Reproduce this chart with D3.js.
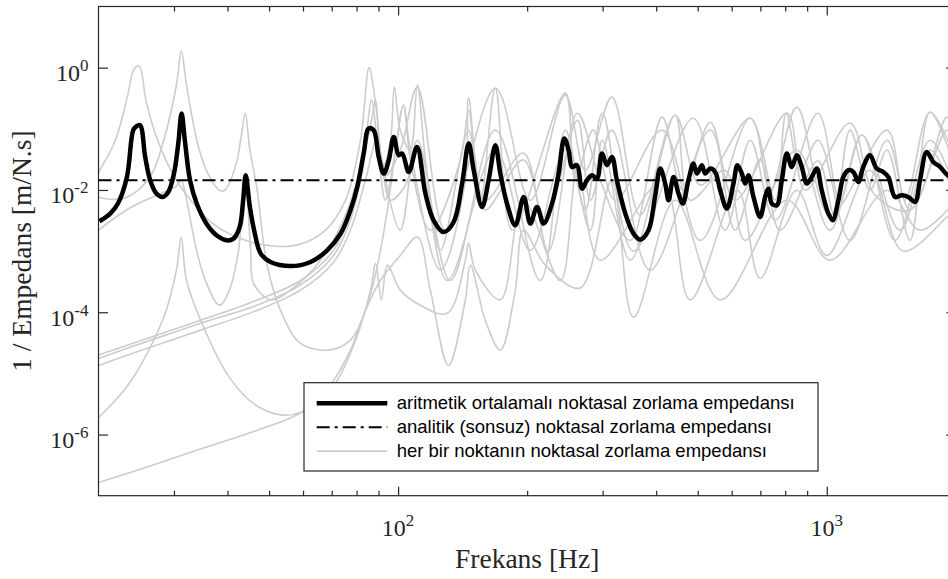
<!DOCTYPE html>
<html>
<head>
<meta charset="utf-8">
<script src="https://d3js.org/d3.v7.min.js"></script>
<style>
  body { margin: 0; background: #fff; }
  svg { display: block; }
</style>
</head>
<body>
<div id="chart"></div>
<script>
// axis ranges and ticks
var freqRange = [20, 2000];
var valRange = [1e-7, 10];
var xMajorTicks = [100, 1000];
var xTickExps = ["2", "3"];
var xMinorTicks = [30, 40, 50, 60, 70, 80, 90, 200, 300, 400, 500, 600, 700, 800, 900];
var yMajorTicks = [1, 1e-2, 1e-4, 1e-6];
var yTickExps = ["0", "-2", "-4", "-6"];

// analytic (infinite plate) value
var analyticCurve = [[20, 1.44e-2], [2000, 1.44e-2]];

// arithmetic mean of the point mobilities [Hz, m/N.s]
var meanCurve = [[20.1, 3.08e-3], [21.3, 4.11e-3], [22.2, 5.99e-3], [23.3, 1.63e-2], [24.1, 9.48e-2], [24.5, 0.110], [25.0, 0.1145],
  [25.7, 3.47e-2], [26.4, 1.44e-2], [27.3, 8.73e-3], [28.2, 7.68e-3], [29.1, 9.27e-3], [30.0, 1.85e-2], [30.7, 5.75e-2], [31.25, 0.178],
  [31.8, 6.51e-2], [32.7, 1.44e-2], [33.9, 5.99e-3], [35.7, 2.82e-3], [37.7, 1.81e-3], [39.8, 1.50e-3], [41.3, 1.60e-3], [42.7, 2.48e-3],
  [43.5, 6.78e-3], [44.1, 1.74e-2], [45.1, 5.27e-3], [46.3, 1.96e-3], [47.8, 9.10e-4], [50.4, 6.64e-4], [56.1, 5.70e-4], [62.5, 6.64e-4],
  [68.3, 1.03e-3], [73.4, 1.93e-3], [77.4, 4.65e-3], [80.3, 1.12e-2], [83.1, 3.94e-2], [85.4, 0.101], [87.7, 9.48e-2], [90.1, 3.47e-2],
  [92.6, 1.85e-2], [95.1, 3.06e-2], [97.7, 7.37e-2], [100.3, 3.70e-2], [102.2, 3.94e-2], [105.9, 1.97e-2], [110.7, 5.06e-2], [115.8, 8.73e-3],
  [121.0, 3.19e-3], [127.7, 2.05e-3], [134.8, 2.99e-3], [141.0, 1.27e-2], [146.1, 5.75e-2], [150.1, 2.10e-2], [157.0, 5.27e-3], [162.6, 1.44e-2],
  [168.6, 5.39e-2], [173.2, 1.85e-2], [179.5, 5.99e-3], [187.7, 2.64e-3], [196.3, 7.68e-3], [203.4, 2.82e-3], [210.9, 5.27e-3], [218.5, 2.82e-3],
  [228.6, 5.99e-3], [236.8, 1.85e-2], [244.2, 6.94e-2], [249.9, 4.47e-2], [254.5, 2.38e-2], [261.4, 2.54e-2], [268.5, 1.05e-2], [275.8, 1.44e-2],
  [283.3, 1.74e-2], [291.0, 1.54e-2], [298.9, 3.94e-2], [307.0, 2.54e-2], [315.4, 3.47e-2], [323.9, 1.44e-2], [338.8, 4.11e-3], [354.2, 1.93e-3],
  [367.1, 1.54e-3], [383.8, 2.19e-3], [398.0, 8.19e-3], [408.8, 2.24e-2], [419.9, 1.27e-2], [427.4, 6.78e-3], [439.0, 1.63e-2], [450.9, 8.73e-3],
  [461.6, 5.99e-3], [475.7, 1.44e-2], [488.7, 2.70e-2], [497.7, 1.85e-2], [511.2, 2.54e-2], [520.4, 1.85e-2], [534.6, 2.24e-2], [549.1, 1.97e-2],
  [564.1, 9.89e-3], [584.7, 4.96e-3], [605.8, 1.27e-2], [618.9, 2.54e-2], [633.8, 1.85e-2], [645.1, 1.27e-2], [656.5, 1.74e-2], [674.5, 7.68e-3],
  [699.1, 3.61e-3], [718.1, 7.68e-3], [731.0, 1.05e-2], [744.4, 5.99e-3], [764.6, 5.62e-3], [785.5, 1.44e-2], [806.9, 3.94e-2], [828.8, 2.38e-2],
  [851.4, 3.70e-2], [874.5, 2.38e-2], [898.3, 1.27e-2], [922.6, 1.63e-2], [947.7, 2.24e-2], [973.4, 9.89e-3], [1008.6, 4.11e-3], [1032.7, 3.19e-3],
  [1064.4, 6.78e-3], [1093.1, 1.63e-2], [1122.8, 2.10e-2], [1153.3, 1.97e-2], [1184.6, 1.35e-2], [1216.8, 2.38e-2], [1261.3, 3.70e-2], [1307.6, 2.24e-2],
  [1355.0, 1.97e-2], [1392.0, 1.63e-2], [1443.0, 7.68e-3], [1495.8, 8.19e-3], [1549.7, 7.68e-3], [1606.4, 6.36e-3], [1650.3, 1.44e-2], [1710.7, 4.19e-2],
  [1772.4, 2.87e-2], [1837.2, 2.38e-2], [1914.7, 1.74e-2], [2000, 1.5e-2]];

// single point mobilities (grey)
var point1 = [[20, 1.95e-2], [21.9, 6.5e-2], [23.4, 0.355], [24.2, 0.945], [24.9, 1.06], [25.8, 0.294], [27.2, 7.9e-2], [29.5, 2.1e-2],
  [32.8, 6.8e-3], [37.5, 2.6e-3], [44, 1.5e-3], [51.8, 1.2e-3], [59.2, 1.3e-3], [67.7, 2.2e-3], [75.4, 6.8e-3], [81.7, 6.5e-2], [85.6, 1.0],
  [89.0, 0.20], [93.4, 1.7e-2], [101.2, 4.5e-2], [110.9, 0.48], [128.9, 2.2e-3], [168.6, 0.46], [203.4, 6.8e-3], [245.5, 0.355], [273.3, 2.1e-2],
  [315, 0.33], [367, 3.9e-3], [443, 0.167], [507, 1.2e-2], [663, 0.149], [738, 9.9e-3], [851, 0.226], [1017, 3.9e-3], [1382, 9.5e-2],
  [1522, 6.8e-3], [1741, 0.187], [2000, 3.1e-2]];
var point2 = [[20, 7.6e-3], [21.9, 7.0e-3], [23.8, 8.2e-3], [26.5, 1.74e-2], [28.4, 6.5e-2], [30.4, 0.52], [31.2, 1.86], [32.1, 0.52],
  [33.9, 6.5e-2], [35.7, 2.1e-2], [38.3, 9.9e-3], [39.4, 9.9e-3], [41.8, 2.5e-2], [43.1, 7.9e-2], [44, 0.18], [45.1, 4.5e-2], [46.8, 1.1e-2],
  [49.6, 5.4e-4], [54.0, 8.3e-5], [59.2, 3.1e-5], [68.8, 2.4e-5], [77.4, 3.5e-5], [83.9, 1.07e-4], [89.0, 4.9e-4], [94.4, 4.7e-3], [98.6, 4.5e-2],
  [102.9, 0.243], [106.8, 4.5e-2], [125.5, 4.9e-4], [143.5, 1.44e-2], [146, 0.317], [159.7, 6.8e-3], [196, 4.0e-2], [224, 1.0e-3], [262, 0.18],
  [296, 1.44e-2], [348, 1.5e-3], [413, 0.155], [461, 9.9e-3], [535, 0.128], [611, 6.8e-3], [808, 0.18], [890, 9.9e-3], [1133, 0.124],
  [1296, 8.2e-3], [1564, 4.7e-3], [1907, 0.155], [2000, 6.5e-2]];
var point3 = [[20, 2.2e-3], [23.8, 5.2e-3], [28.2, 9.0e-3], [30.4, 1.15e-2], [31.2, 1.44e-2], [32.1, 6.8e-3], [33.9, 1.0e-3], [35.7, 3.0e-4],
  [38.3, 1.3e-4], [40.4, 2.3e-4], [42.4, 1.0e-3], [44, 1.44e-2], [45.3, 1.0e-3], [46.0, 3.0e-4], [50.4, 1.6e-4], [56.1, 2.3e-4], [65.9, 7.1e-4],
  [75.4, 3.9e-3], [82.6, 3.1e-2], [86.7, 0.138], [88.6, 0.294], [90.9, 4.5e-2], [101.2, 2.2e-3], [110.9, 6.5e-2], [132.4, 3.3e-4], [168.6, 9.5e-2],
  [214.6, 3.3e-4], [245.5, 9.5e-2], [273.3, 4.7e-3], [299.4, 0.18], [353.6, 1.0e-3], [488, 0.149], [579, 2.2e-3], [663, 6.5e-2], [758, 3.2e-3],
  [954, 0.18], [1074, 6.8e-3], [1208, 7.9e-2], [1482, 2.2e-3], [1741, 4.5e-2], [2000, 6.8e-3]];
var point4 = [[20, 1.9e-6], [23.6, 6.9e-6], [28.4, 8.3e-5], [30.4, 4.9e-4], [31.2, 1.7e-3], [32.1, 3.3e-4], [35.7, 4.5e-5], [40.4, 8.6e-6],
  [46.0, 3.2e-6], [53.2, 2.1e-6], [59.2, 2.3e-6], [69.5, 5.3e-6], [79.6, 3.5e-5], [86.2, 2.3e-4], [88.6, 6.3e-4], [91.4, 1.6e-4], [94.4, 5.9e-4],
  [101.2, 2.3e-4], [112.7, 1.3e-4], [130.3, 9.6e-5], [143.5, 7.1e-4], [146, 1.34e-3], [151.4, 4.9e-4], [173.2, 1.6e-4], [196, 6.8e-3],
  [239, 3.3e-4], [262, 2.1e-2], [296, 7.1e-4], [413, 1.44e-2], [480, 1.6e-4], [619, 9.9e-3], [699, 3.6e-4], [851, 9.9e-3], [1000, 8.5e-4],
  [1261, 2.1e-2], [1505, 1.0e-3], [1907, 3.6e-3], [2000, 4.7e-3]];
var point5 = [[20, 1.64e-7], [26.5, 3.1e-7], [34.6, 5.8e-7], [46.8, 1.17e-6], [60.1, 2.4e-6], [69.5, 6.5e-6], [77.4, 2.4e-5], [83.9, 1.07e-4],
  [90.9, 3.3e-4], [101.2, 8.5e-4], [110.9, 1.7e-3], [118.9, 2.3e-4], [131, 1.35e-5], [143.5, 1.6e-4], [147.4, 5.9e-4], [159.7, 7.4e-5],
  [173.2, 2.4e-5], [187.7, 2.3e-4], [196, 2.2e-3], [220.5, 5.9e-4], [266, 2.5e-4], [315, 1.44e-2], [354, 8.3e-5], [443, 6.8e-3], [564, 1.6e-4],
  [808, 6.8e-3], [1017, 7.1e-4], [1382, 9.9e-3], [1650, 2.2e-3], [2000, 6.8e-3]];
var point6 = [[20, 2.0e-5], [26.5, 3.9e-5], [34.6, 7.4e-5], [46.8, 1.57e-4], [59.2, 3.3e-4], [70.7, 1.03e-3], [77.4, 4.2e-3], [83.1, 3.4e-2],
  [86.7, 0.294], [89.5, 6.5e-2], [92.4, 2.5e-2], [96, 6.5e-2], [98, 0.48], [101.2, 9.5e-2], [106.8, 4.5e-2], [110.9, 0.517], [115.8, 3.1e-2],
  [125.5, 1.03e-3], [146, 9.5e-2], [155.5, 6.8e-3], [168.6, 0.46], [184.7, 2.2e-3], [245.5, 0.383], [259, 1.44e-2], [285, 9.5e-2], [321, 6.8e-3],
  [413, 9.5e-2], [507, 1.5e-3], [663, 0.149], [758, 6.8e-3], [804, 0.18], [867, 2.1e-2], [954, 6.5e-2], [1133, 1.5e-3], [1382, 6.5e-2],
  [1564, 4.7e-3], [1907, 9.5e-2], [2000, 4.5e-2]];
var point7 = [[20, 1.76e-5], [26.5, 3.5e-5], [34.6, 6.6e-5], [46.8, 1.3e-4], [59.2, 2.8e-4], [70.7, 8.5e-4], [77.4, 3.2e-3], [82.6, 2.1e-2],
  [85.3, 7.9e-2], [87.6, 0.102], [90.1, 3.1e-2], [93.4, 6.8e-3], [98.6, 4.5e-2], [102.9, 0.243], [106.8, 3.1e-2], [118.9, 2.2e-3], [139.7, 3.1e-2],
  [146, 0.2], [151.4, 3.1e-2], [159.7, 4.7e-3], [196, 3.1e-2], [220.5, 3.2e-3], [262, 0.138], [280.7, 6.8e-3], [315, 9.5e-2], [387, 4.9e-4],
  [535, 9.5e-2], [611, 2.2e-3], [699, 3.1e-2], [778, 2.2e-3], [954, 3.0e-2], [1040, 4.0e-3], [1133, 9.5e-2], [1261, 9.9e-3], [1382, 4.5e-2],
  [1564, 1.5e-3], [1741, 0.187], [2000, 2.1e-2]];
var point8 = [[20, 1.35e-5], [26.5, 2.7e-5], [34.6, 5.1e-5], [46.8, 1.07e-4], [59.2, 2.3e-4], [70.7, 6.6e-4], [77.4, 2.2e-3], [83.9, 1.44e-2],
  [89, 6.5e-2], [91.9, 2.1e-2], [96, 6.8e-3], [104, 1.19e-2], [110.9, 4.5e-2], [130.3, 3.3e-4], [168.6, 4.5e-2], [203.4, 1.03e-3], [245.5, 4.5e-2],
  [280.7, 2.2e-3], [299.4, 6.5e-2], [348, 7.1e-4], [443, 0.167], [480, 6.8e-3], [579, 2.1e-2], [645, 1.5e-3], [851, 4.5e-2], [1017, 2.2e-3],
  [1208, 7.9e-2], [1443, 1.5e-3], [1741, 6.5e-2], [2000, 9.9e-3]];

var legendLabels = ["aritmetik ortalamalı noktasal zorlama empedansı",
  "analitik (sonsuz) noktasal zorlama empedansı",
  "her bir noktanın noktasal zorlama empedansı"];

var svgWidth = 948;
var svgHeight = 579;
var box = { left: 98.5, top: 6.5, right: 955.8, bottom: 495.7 };
var axisColor = "#262626";
var serif = "'Liberation Serif', 'Times New Roman', serif";

var svg = d3.select("#chart")
  .append("svg")
  .attr("width", svgWidth)
  .attr("height", svgHeight);

var x = d3.scaleLog().domain(freqRange).range([box.left, box.right]);
var y = d3.scaleLog().domain(valRange).range([box.bottom, box.top]);

svg.append("clipPath").attr("id", "clip")
  .append("rect")
  .attr("x", box.left).attr("y", box.top)
  .attr("width", box.right - box.left).attr("height", box.bottom - box.top);

var smooth = d3.line()
  .x(d => x(d[0]))
  .y(d => y(d[1]))
  .curve(d3.curveCatmullRom.alpha(0.5));

var straight = d3.line()
  .x(d => x(d[0]))
  .y(d => y(d[1]));

var plotArea = svg.append("g").attr("clip-path", "url(#clip)");

// grey curves first
[point1, point2, point3, point4, point5, point6, point7, point8].forEach(function(c) {
  plotArea.append("path")
    .datum(c)
    .attr("d", smooth)
    .attr("fill", "none")
    .attr("stroke", "#cccccc")
    .attr("stroke-width", 1.6);
});

plotArea.append("path")
  .datum(meanCurve)
  .attr("d", smooth)
  .attr("fill", "none")
  .attr("stroke", "#000")
  .attr("stroke-width", 4.5)
  .attr("stroke-linejoin", "round");

plotArea.append("path")
  .datum(analyticCurve)
  .attr("d", straight)
  .attr("fill", "none")
  .attr("stroke", "#000")
  .attr("stroke-width", 2)
  .attr("stroke-dasharray", "13,5,3,5");

// axes (ticks point inward on all four sides)
function styleAxis(g) {
  g.select(".domain").remove();
  g.selectAll(".tick line").attr("stroke", axisColor).attr("stroke-width", 1.2);
}

svg.append("g").attr("transform", `translate(0, ${box.bottom})`)
  .call(d3.axisBottom(x).tickValues(xMajorTicks).tickSizeInner(-9).tickSizeOuter(0).tickFormat(""))
  .call(styleAxis);
svg.append("g").attr("transform", `translate(0, ${box.bottom})`)
  .call(d3.axisBottom(x).tickValues(xMinorTicks).tickSizeInner(-5).tickSizeOuter(0).tickFormat(""))
  .call(styleAxis);
svg.append("g").attr("transform", `translate(0, ${box.top})`)
  .call(d3.axisTop(x).tickValues(xMajorTicks).tickSizeInner(-9).tickSizeOuter(0).tickFormat(""))
  .call(styleAxis);
svg.append("g").attr("transform", `translate(0, ${box.top})`)
  .call(d3.axisTop(x).tickValues(xMinorTicks).tickSizeInner(-5).tickSizeOuter(0).tickFormat(""))
  .call(styleAxis);
svg.append("g").attr("transform", `translate(${box.left}, 0)`)
  .call(d3.axisLeft(y).tickValues(yMajorTicks).tickSizeInner(-9.5).tickSizeOuter(0).tickFormat(""))
  .call(styleAxis);
svg.append("g").attr("transform", `translate(${box.right}, 0)`)
  .call(d3.axisRight(y).tickValues(yMajorTicks).tickSizeInner(-9.5).tickSizeOuter(0).tickFormat(""))
  .call(styleAxis);

svg.append("rect")
  .attr("x", box.left).attr("y", box.top)
  .attr("width", box.right - box.left).attr("height", box.bottom - box.top)
  .attr("fill", "none")
  .attr("stroke", axisColor)
  .attr("stroke-width", 1.2);

// tick labels 10^n
xMajorTicks.forEach(function(v, i) {
  var t = svg.append("text")
    .attr("x", x(v))
    .attr("y", 536)
    .attr("text-anchor", "middle")
    .attr("font-family", serif)
    .attr("font-size", 24)
    .attr("fill", axisColor);
  t.append("tspan").text("10");
  t.append("tspan").attr("dy", -10).attr("font-size", 17).text(xTickExps[i]);
});

yMajorTicks.forEach(function(v, i) {
  var t = svg.append("text")
    .attr("x", 88.5)
    .attr("y", y(v) + 13.5)
    .attr("text-anchor", "end")
    .attr("font-family", serif)
    .attr("font-size", 24)
    .attr("fill", axisColor);
  t.append("tspan").text("10");
  t.append("tspan").attr("dy", -10).attr("font-size", 17).text(yTickExps[i]);
});

// axis titles
svg.append("text")
  .attr("x", (box.left + box.right) / 2)
  .attr("y", 568)
  .attr("text-anchor", "middle")
  .attr("font-family", serif)
  .attr("font-size", 27.5)
  .attr("fill", axisColor)
  .text("Frekans [Hz]");

svg.append("text")
  .attr("transform", `translate(31, ${(box.top + box.bottom) / 2}) rotate(-90)`)
  .attr("text-anchor", "middle")
  .attr("font-family", serif)
  .attr("font-size", 27.5)
  .attr("fill", axisColor)
  .text("1 / Empedans [m/N.s]");

// legend
var legend = svg.append("g");
legend.append("rect")
  .attr("x", 304).attr("y", 382.7)
  .attr("width", 514).attr("height", 88.3)
  .attr("fill", "#fff")
  .attr("stroke", axisColor)
  .attr("stroke-width", 1.2);

var legendStyles = [
  { stroke: "#000", width: 4.5, dash: null },
  { stroke: "#000", width: 2, dash: "13,5,3,5" },
  { stroke: "#cccccc", width: 1.6, dash: null }
];

legendLabels.forEach(function(label, i) {
  var ly = 403.3 + i * 23.9;
  legend.append("line")
    .attr("x1", 316.7).attr("x2", 387.3)
    .attr("y1", ly).attr("y2", ly)
    .attr("stroke", legendStyles[i].stroke)
    .attr("stroke-width", legendStyles[i].width)
    .attr("stroke-dasharray", legendStyles[i].dash);
  legend.append("text")
    .attr("x", 396.7)
    .attr("y", ly + 6)
    .attr("font-family", "'Liberation Sans', Arial, sans-serif")
    .attr("font-size", 18.5)
    .attr("fill", "#000")
    .text(label);
});
</script>
</body>
</html>
